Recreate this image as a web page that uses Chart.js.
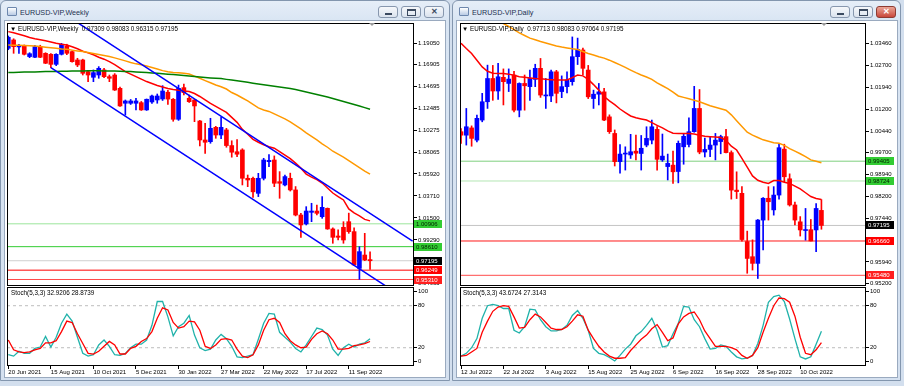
<!DOCTYPE html>
<html>
<head>
<meta charset="utf-8">
<script src="https://cdn.jsdelivr.net/npm/chart.js@4.4.0/dist/chart.umd.min.js"></script>
<style>
  html, body { margin: 0; padding: 0; }
  body { width: 904px; height: 386px; position: relative; overflow: hidden; background: #d3dfee; font-family: 'Liberation Sans', Arial, sans-serif; }
  .win { position: absolute; top: 0; height: 381px; box-sizing: border-box; border: 1px solid #8396ae; border-radius: 6px 6px 0 0;
         background: linear-gradient(#e6eef8 0, #d9e5f3 20px, #d5e1f0 100%); }
  .client { position: absolute; top: 20px; height: 358px; background: #fff; border: 1px solid #9aaabf; box-sizing: border-box; }
  .title { position: absolute; top: 8px; font-size: 7.2px; color: #1d3150; white-space: nowrap; }
  .icon { position: absolute; top: 7px; width: 8px; height: 7px; border: 1px solid #6d87ad; background: linear-gradient(#ffffff, #b9cbe4); border-radius: 1px; }
  .btn { position: absolute; top: 6px; width: 20px; height: 12px; box-sizing: border-box; border: 1px solid #8797ae; border-radius: 3px;
         background: linear-gradient(#f6f8fb, #dbe3ee); }
  .btn.red { background: linear-gradient(#eba596, #c9473b); border-color: #8e3b32; }
  .btn .min { position: absolute; left: 6px; top: 6px; width: 7px; height: 2px; background: #3b4a60; }
  .btn .max { position: absolute; left: 5px; top: 2px; width: 7px; height: 4px; border: 1px solid #3b4a60; border-top-width: 2px; }
  .btn .x { position: absolute; left: 0; width: 18px; top: 0px; text-align: center; font-size: 8px; line-height: 10px; color: #3b4a60; font-weight: bold; }
  .btn.red .x { color: #fff; }
  canvas { position: absolute; }
  .hdr { position: absolute; font-size: 6.3px; color: #000; white-space: nowrap; line-height: 8px; }
  .shift { position: absolute; top: 23px; width: 0; height: 0; border-left: 3px solid transparent; border-right: 3px solid transparent; border-top: 3px solid #9a9a9a; }
</style>
</head>
<body>

<div class="win" style="left:0;width:450px"></div>
<div class="icon" style="left:7px"></div>
<div class="title" style="left:20px">EURUSD-VIP,Weekly</div>
<div class="btn" style="left:378px"><span class="min"></span></div>
<div class="btn" style="left:401px"><span class="max"></span></div>
<div class="btn" style="left:424px"><span class="x">✕</span></div>
<div class="client" style="left:4px;width:442px"></div>

<div class="win" style="left:452px;width:449px"></div>
<div class="icon" style="left:459px"></div>
<div class="title" style="left:472px">EURUSD-VIP,Daily</div>
<div class="btn" style="left:830px"><span class="min"></span></div>
<div class="btn" style="left:853px"><span class="max"></span></div>
<div class="btn red" style="left:876px"><span class="x">✕</span></div>
<div class="client" style="left:456px;width:442px"></div>

<canvas id="weeklyMain" width="437" height="263" style="left:7px;top:23px"></canvas>
<canvas id="weeklyStoch" width="437" height="90" style="left:7px;top:287px"></canvas>
<canvas id="dailyMain" width="436" height="263" style="left:460px;top:23px"></canvas>
<canvas id="dailyStoch" width="436" height="90" style="left:460px;top:287px"></canvas>

<div class="hdr" style="left:10px;top:25px">▼ EURUSD-VIP,Weekly&nbsp;&nbsp;0.97309 0.98083 0.96315 0.97195</div>
<div class="hdr" style="left:462px;top:25px">▼ EURUSD-VIP,Daily&nbsp;&nbsp;0.97713 0.98083 0.97064 0.97195</div>
<div class="hdr" style="left:11px;top:289px">Stoch(5,3,3) 32.9206 28.8739</div>
<div class="hdr" style="left:463px;top:289px">Stoch(5,3,3) 43.6724 27.3143</div>
<div class="shift" style="left:369px"></div>
<div class="shift" style="left:821px"></div>

<script>
// ---- weekly data (20 Jun 2021 .. Oct 2022) ----
const weeklyOpen = [1.1854,1.1938,1.1868,1.1878,1.1771,1.1764,1.1871,1.1804,1.1794,1.1693,
  1.1794,1.1878,1.1821,1.1737,1.1737,1.1620,1.1563,1.1586,1.1637,1.1569,
  1.1586,1.1452,1.1302,1.1302,1.1302,1.1308,1.1235,1.1315,1.1335,1.1345,
  1.1413,1.1342,1.1141,1.1459,1.1352,1.1335,1.1124,1.0933,1.0916,1.1060,
  1.0983,1.1034,1.0877,1.0815,1.0833,1.0548,1.0548,1.0397,1.0548,1.0715,
  1.0732,1.0514,1.0481,1.0548,1.0431,1.0179,1.0089,1.0206,1.0219,1.0162,
  1.0246,1.0039,0.9968,1.0055,1.0112,1.0012,0.9643,0.9777,0.97309];
const weeklyHigh = [1.1978,1.1950,1.1895,1.1888,1.1810,1.1885,1.1885,1.1810,1.1800,1.1800,
  1.1904,1.1895,1.1830,1.1754,1.1745,1.1630,1.1637,1.1670,1.1653,1.1586,
  1.1600,1.1465,1.1335,1.1340,1.1352,1.1320,1.1345,1.1385,1.1395,1.1479,
  1.1433,1.1350,1.1485,1.1495,1.1385,1.1340,1.1130,1.1100,1.1151,1.1070,
  1.1161,1.1050,1.0925,1.0936,1.0845,1.0581,1.0560,1.0598,1.0749,1.0786,
  1.0773,1.0615,1.0581,1.0600,1.0465,1.0196,1.0263,1.0297,1.0280,1.0364,
  1.0250,1.0050,1.0029,1.0112,1.0198,1.0050,0.9861,0.9995,0.98083];
const weeklyLow = [1.1840,1.1804,1.1804,1.1787,1.1760,1.1760,1.1760,1.1700,1.1660,1.1680,
  1.1787,1.1790,1.1715,1.1670,1.1586,1.1519,1.1519,1.1553,1.1560,1.1519,
  1.1430,1.1270,1.1184,1.1290,1.1235,1.1230,1.1230,1.1300,1.1302,1.1330,
  1.1291,1.1121,1.1130,1.1385,1.1310,1.1117,1.0873,1.0799,1.0900,1.0950,
  1.0945,1.0860,1.0760,1.0765,1.0481,1.0464,1.0355,1.0364,1.0531,1.0665,
  1.0464,1.0347,1.0471,1.0420,1.0170,0.9955,1.0079,1.0112,1.0179,1.0146,
  1.0035,0.9895,0.9928,0.9895,0.9995,0.9670,0.9533,0.9720,0.96315];
const weeklyClose = [1.1965,1.1871,1.1880,1.1794,1.1800,1.1871,1.1764,1.1704,1.1693,1.1794,
  1.1895,1.1804,1.1720,1.1687,1.1603,1.1586,1.1610,1.1653,1.1569,1.1553,
  1.1435,1.1275,1.1325,1.1325,1.1325,1.1235,1.1342,1.1375,1.1375,1.1425,
  1.1344,1.1141,1.1452,1.1409,1.1318,1.1275,1.0933,1.0910,1.1050,1.0983,
  1.1060,1.0877,1.0810,1.0790,1.0548,1.0531,1.0412,1.0548,1.0732,1.0728,
  1.0498,1.0498,1.0565,1.0431,1.0179,1.0079,1.0219,1.0219,1.0196,1.0256,
  1.0039,0.9955,0.9955,0.9928,1.0012,0.9677,0.9811,0.9727,0.97195];
const weeklyMaFast = [1.2022,1.2010,1.1995,1.1980,1.1962,1.1950,1.1940,1.1930,1.1918,1.1905,
  1.1895,1.1888,1.1870,1.1850,1.1825,1.1808,1.1790,1.1765,1.1745,1.1720,
  1.1690,1.1655,1.1620,1.1595,1.1570,1.1545,1.1520,1.1500,1.1480,1.1465,
  1.1450,1.1440,1.1432,1.1425,1.1420,1.1400,1.1370,1.1335,1.1300,1.1270,
  1.1240,1.1210,1.1160,1.1110,1.1040,1.0990,1.0940,1.0910,1.0885,1.0865,
  1.0850,1.0815,1.0780,1.0745,1.0700,1.0650,1.0590,1.0560,1.0535,1.0500,
  1.0450,1.0400,1.0365,1.0330,1.0240,1.0200,1.0170,1.0135,1.0120];
const weeklyMaMid = [1.1888,1.1886,1.1884,1.1882,1.1880,1.1877,1.1872,1.1866,1.1860,1.1854,
  1.1848,1.1844,1.1836,1.1828,1.1821,1.1812,1.1802,1.1792,1.1782,1.1771,
  1.1758,1.1743,1.1728,1.1712,1.1698,1.1688,1.1676,1.1662,1.1647,1.1630,
  1.1618,1.1612,1.1608,1.1604,1.1595,1.1575,1.1553,1.1530,1.1508,1.1486,
  1.1468,1.1445,1.1410,1.1385,1.1355,1.1325,1.1290,1.1255,1.1235,1.1220,
  1.1195,1.1170,1.1145,1.1115,1.1080,1.1045,1.1005,1.0970,1.0935,1.0895,
  1.0860,1.0820,1.0790,1.0760,1.0725,1.0690,1.0655,1.0620,1.0590];
const weeklyMaSlow = [1.1610,1.1612,1.1614,1.1615,1.1616,1.1617,1.1618,1.1620,1.1621,1.1622,
  1.1623,1.1624,1.1625,1.1626,1.1627,1.1628,1.1628,1.1628,1.1627,1.1627,
  1.1626,1.1624,1.1622,1.1620,1.1617,1.1614,1.1611,1.1607,1.1603,1.1598,
  1.1594,1.1590,1.1586,1.1580,1.1575,1.1570,1.1565,1.1560,1.1556,1.1553,
  1.1550,1.1542,1.1535,1.1528,1.1520,1.1512,1.1503,1.1495,1.1488,1.1480,
  1.1472,1.1465,1.1458,1.1450,1.1440,1.1428,1.1415,1.1403,1.1390,1.1378,
  1.1365,1.1350,1.1335,1.1320,1.1305,1.1290,1.1275,1.1258,1.1242];
// trend channel anchors: [bar index, price]
const weeklyChannelUpper = [[10, 1.2217], [76, 0.9917]];
const weeklyChannelLower = [[8, 1.1660], [76, 0.9290]];
const weeklyLevels = [1.00906, 0.98610, 0.97195, 0.96249, 0.95310];
const weeklyPriceTicks = [1.19050,1.16905,1.14695,1.12485,1.10275,1.08065,1.05920,1.03710,1.01500,0.99290,0.97080,0.94935];
const weeklyStochMain = [10,8,15,12,12,19,21,36,21,35,55,68,58,35,12,8,10,24,31,22,
  10,9,12,20,25,25,31,52,86,86,64,37,50,55,66,38,20,16,18,31,
  39,33,22,7,6,8,10,32,55,69,68,42,35,28,19,14,24,36,48,46,
  38,18,9,20,25,21,25,27,32.92];
const weeklyStochSignal = [31,17,14,13,14,17,19,27,27,30,43,58,56,40,26,12,11,15,22,29,
  24,11,11,19,22,29,33,43,62,77,74,56,48,50,58,57,45,22,19,24,
  32,33,31,18,8,6,10,24,45,60,62,56,40,30,24,20,21,32,40,44,
  40,31,18,18,19,23,24,26,28.87];
const weeklyDates = ['20 Jun 2021','15 Aug 2021','10 Oct 2021','5 Dec 2021','30 Jan 2022','27 Mar 2022','22 May 2022','17 Jul 2022','11 Sep 2022'];
const weeklyDateBars = [0, 8, 16, 24, 32, 40, 48, 56, 64];

// ---- daily data (12 Jul 2022 .. 14 Oct 2022) ----
const dailyOpen = [1.0042,1.0030,1.0055,1.0013,1.0082,1.0145,1.0225,1.0182,1.0229,1.0208,
  1.0237,1.0116,1.0208,1.0197,1.0222,1.0260,1.0165,1.0165,1.0248,1.0180,
  1.0197,1.0214,1.0300,1.0323,1.0254,1.0156,1.0171,1.0179,1.0093,1.0036,
  0.9939,0.9965,0.9962,0.9975,0.9967,0.9996,1.0013,1.0050,0.9945,0.9922,
  0.9927,0.9905,0.9990,0.9998,1.0042,1.0122,0.9972,0.9981,0.9996,1.0008,
  1.0025,0.9970,0.9841,0.9830,0.9664,0.9612,0.9589,0.9738,0.9813,0.9773,
  0.9824,0.9982,0.9880,0.9790,0.9732,0.9702,0.9705,0.9704,0.97713];
const dailyHigh = [1.0053,1.0122,1.0062,1.0099,1.0174,1.0271,1.0270,1.0277,1.0258,1.0258,
  1.0250,1.0210,1.0237,1.0254,1.0274,1.0294,1.0225,1.0254,1.0253,1.0234,
  1.0248,1.0368,1.0364,1.0330,1.0270,1.0185,1.0208,1.0191,1.0100,1.0048,
  0.9998,0.9990,1.0033,1.0030,1.0029,1.0059,1.0082,1.0060,1.0034,0.9965,
  0.9975,1.0010,1.0035,1.0090,1.0198,1.0187,1.0020,1.0026,1.0036,1.0030,
  1.0050,0.9976,0.9904,0.9853,0.9700,0.9670,0.9740,0.9815,0.9853,0.9853,
  0.9999,0.9999,0.9897,0.9800,0.9750,0.9778,0.9740,0.9795,0.98083];
const dailyLow = [1.0002,0.9996,0.9992,1.0007,1.0076,1.0122,1.0150,1.0153,1.0134,1.0180,
  1.0110,1.0093,1.0116,1.0150,1.0197,1.0160,1.0122,1.0145,1.0141,1.0159,
  1.0175,1.0202,1.0273,1.0237,1.0156,1.0122,1.0134,1.0080,1.0036,0.9924,
  0.9899,0.9910,0.9950,0.9945,0.9910,0.9990,1.0000,0.9910,0.9940,0.9876,
  0.9864,0.9866,0.9930,0.9990,1.0040,0.9966,0.9955,0.9956,0.9945,0.9966,
  0.9969,0.9810,0.9812,0.9665,0.9555,0.9566,0.9537,0.9635,0.9738,0.9755,
  0.9810,0.9870,0.9786,0.9721,0.9683,0.9669,0.9666,0.9629,0.97064];
const dailyClose = [1.0030,1.0059,1.0019,1.0088,1.0145,1.0225,1.0182,1.0231,1.0214,1.0223,
  1.0116,1.0208,1.0200,1.0225,1.0260,1.0168,1.0168,1.0248,1.0174,1.0197,
  1.0220,1.0300,1.0325,1.0260,1.0162,1.0171,1.0179,1.0082,1.0042,0.9939,
  0.9965,0.9968,0.9973,0.9968,0.9985,1.0019,1.0059,0.9947,0.9958,0.9933,
  0.9904,1.0002,1.0026,1.0042,1.0122,0.9972,0.9981,0.9996,1.0013,1.0025,
  0.9970,0.9841,0.9836,0.9671,0.9606,0.9589,0.9738,0.9813,0.9801,0.9824,
  0.9987,0.9887,0.9790,0.9738,0.9704,0.9705,0.9666,0.9778,0.97195];
const dailyMaFast = [1.0346,1.0328,1.0311,1.0288,1.0265,1.0250,1.0243,1.0242,1.0242,1.0240,
  1.0236,1.0231,1.0229,1.0227,1.0225,1.0224,1.0222,1.0221,1.0220,1.0220,
  1.0220,1.0228,1.0237,1.0234,1.0222,1.0204,1.0185,1.0163,1.0148,1.0135,
  1.0120,1.0108,1.0096,1.0090,1.0086,1.0082,1.0073,1.0064,1.0055,1.0045,
  1.0037,1.0036,1.0036,1.0036,1.0034,1.0030,1.0026,1.0025,1.0024,1.0022,
  1.0012,0.9992,0.9979,0.9950,0.9920,0.9890,0.9875,0.9868,0.9864,0.9874,
  0.9874,0.9868,0.9864,0.9855,0.9845,0.9832,0.9819,0.9812,0.9809];
const dailyMaSlow = [null,null,null,null,null,null,null,1.0428,1.0414,1.0404,
  1.0393,1.0382,1.0373,1.0364,1.0358,1.0352,1.0347,1.0342,1.0337,1.0333,
  1.0330,1.0327,1.0325,1.0318,1.0311,1.0306,1.0300,1.0295,1.0288,1.0280,
  1.0272,1.0263,1.0254,1.0245,1.0237,1.0230,1.0222,1.0210,1.0200,1.0190,
  1.0178,1.0165,1.0160,1.0155,1.0150,1.0145,1.0138,1.0131,1.0126,1.0121,
  1.0116,1.0100,1.0080,1.0060,1.0040,1.0030,1.0022,1.0014,1.0009,1.0004,
  1.0002,0.9995,0.9984,0.9975,0.9966,0.9956,0.9945,0.9940,0.9935];
const dailyLevels = [0.99405, 0.98724, 0.97195, 0.96660, 0.95480];
const dailyPriceTicks = [1.03460,1.02700,1.01940,1.01200,1.00440,0.99700,0.98940,0.98200,0.97440,0.96680,0.95940,0.95200];
const dailyStochMain = [8,12,20,33,62,80,82,80,76,76,45,41,50,75,74,60,50,44,44,46,
  52,66,73,62,45,19,12,10,6,1,9,18,25,37,43,52,62,45,21,23,
  40,55,79,78,60,50,33,18,19,24,22,14,7,4,5,9,26,52,85,93,
  95,86,61,33,7,4,7,25,43.67];
const dailyStochSignal = [8,9,14,19,42,58,72,78,80,79,64,48,49,60,68,64,56,48,46,46,
  50,58,67,65,45,33,22,14,8,5,5,6,16,24,32,38,47,53,42,30,
  34,54,64,69,71,60,44,33,22,22,22,20,17,9,5,9,20,42,62,80,
  91,90,85,65,35,12,10,17,27.31];
const dailyDates = ['12 Jul 2022','22 Jul 2022','3 Aug 2022','15 Aug 2022','25 Aug 2022','6 Sep 2022','16 Sep 2022','28 Sep 2022','10 Oct 2022'];
const dailyDateBars = [0, 8, 16, 24, 32, 40, 48, 56, 64];

const stochLevels = [20, 80];
const stochTicks = [0, 20, 80, 100];

// ---- styles ----
const FONT = "'Liberation Sans', Arial, sans-serif";
const BULL = '#0000ff';
const BEAR = '#ff0000';
const weeklyLevelColors = ['#9be59b', '#33cc33', '#cfcfcf', '#ff0000', '#ff4b4b'];
const dailyLevelColors = ['#7fcf7f', '#b3e6b3', '#c4c4c4', '#ff1a1a', '#ff4b4b'];
const tagFill = ['#33cc33', '#33cc33', '#000000', '#ff0000', '#ff1f1f'];
const tagText = ['#002200', '#002200', '#ffffff', '#ffffff', '#ffffff'];

// black frame round the plot area
const plotFrame = {
    id: 'plotFrame',
    afterDraw(chart) {
        const a = chart.chartArea, ctx = chart.ctx;
        ctx.save();
        ctx.strokeStyle = '#000';
        ctx.lineWidth = 1;
        ctx.strokeRect(a.left + 0.5, a.top + 0.5, a.right - a.left - 1, a.bottom - a.top - 1);
        ctx.restore();
    }
};

// coloured price boxes on the price axis
function priceTags(levels) {
    return {
        id: 'priceTags',
        afterDraw(chart) {
            const a = chart.chartArea, y = chart.scales.y, ctx = chart.ctx;
            ctx.save();
            ctx.font = '6px ' + FONT;
            ctx.textBaseline = 'middle';
            levels.forEach((v, i) => {
                const py = Math.round(y.getPixelForValue(v));
                ctx.fillStyle = tagFill[i];
                ctx.fillRect(a.right, py - 4, 28, 8);
                ctx.fillStyle = tagText[i];
                ctx.fillText(v.toFixed(5), a.right + 2, py + 0.5);
            });
            ctx.restore();
        }
    };
}

function candleSets(o, h, l, c) {
    const colors = c.map((v, i) => v >= o[i] ? BULL : BEAR);
    return [
        { type: 'bar', data: h.map((v, i) => ({ x: i, y: [l[i], v] })), backgroundColor: colors,
          barThickness: 1, grouped: false, order: 4 },
        { type: 'bar', data: o.map((v, i) => ({ x: i, y: [v, c[i]] })), backgroundColor: colors,
          barThickness: 4, minBarLength: 1, grouped: false, order: 3 }
    ];
}

function series(values, color, width, order) {
    return { type: 'line', data: values.map((v, i) => ({ x: i, y: v })), borderColor: color,
             borderWidth: width, pointRadius: 0, order: order, clip: 0 };
}

function segment(points, color, width, order, dash) {
    return { type: 'line', data: points.map(p => ({ x: p[0], y: p[1] })), borderColor: color,
             borderWidth: width, borderDash: dash || [], pointRadius: 0, order: order, clip: 0 };
}

function priceAxis(min, max, ticks) {
    return {
        type: 'linear', position: 'right', min: min, max: max,
        afterBuildTicks: s => { s.ticks = ticks.map(v => ({ value: v })); },
        afterFit: s => { s.width = 30; s.paddingTop = 0; s.paddingBottom = 0; },
        grid: { drawOnChartArea: false, drawTicks: true, tickLength: 3, color: '#000' },
        border: { display: false },
        ticks: { color: '#000', font: { size: 6, family: FONT }, padding: 1, autoSkip: false,
                 callback: v => v.toFixed(5) }
    };
}

function mainChart(id, o, h, l, c, lines, levels, levelColors, xr, yr, ticks) {
    const datasets = candleSets(o, h, l, c).concat(lines);
    levels.forEach((v, i) => datasets.push(segment([[xr[0], v], [xr[1], v]], levelColors[i], 1, 6)));
    new Chart(document.getElementById(id), {
        type: 'bar',
        data: { datasets: datasets },
        options: {
            responsive: false, animation: false, events: [],
            layout: { padding: 0 },
            plugins: { legend: { display: false }, tooltip: { enabled: false } },
            scales: {
                x: { type: 'linear', min: xr[0], max: xr[1], offset: false, display: false },
                y: priceAxis(yr[0], yr[1], ticks)
            }
        },
        plugins: [plotFrame, priceTags(levels)]
    });
}

function stochChart(id, main, signal, dates, dateBars, xr) {
    const datasets = [
        series(main, '#20b2aa', 1.3, 1),
        series(signal, '#ff0000', 1.3, 0)
    ];
    stochLevels.forEach(v => datasets.push(segment([[xr[0], v], [xr[1], v]], '#bdbdbd', 1, 5, [3, 3])));
    new Chart(document.getElementById(id), {
        type: 'line',
        data: { datasets: datasets },
        options: {
            responsive: false, animation: false, events: [],
            layout: { padding: 0 },
            plugins: { legend: { display: false }, tooltip: { enabled: false } },
            scales: {
                x: {
                    type: 'linear', min: xr[0], max: xr[1], offset: false,
                    afterBuildTicks: s => { s.ticks = dateBars.map(v => ({ value: v })); },
                    afterFit: s => { s.height = 11; s.paddingLeft = 0; s.paddingRight = 0; },
                    grid: { drawOnChartArea: false, drawTicks: true, tickLength: 3, color: '#000' },
                    border: { display: false },
                    ticks: { align: 'start', maxRotation: 0, minRotation: 0, autoSkip: false, padding: 0,
                             color: '#000', font: { size: 6, family: FONT },
                             callback: (v, i) => dates[i] }
                },
                y: {
                    type: 'linear', position: 'right', min: -6.1, max: 106.7,
                    afterBuildTicks: s => { s.ticks = stochTicks.map(v => ({ value: v })); },
                    afterFit: s => { s.width = 30; s.paddingTop = 0; s.paddingBottom = 0; },
                    grid: { drawOnChartArea: false, drawTicks: true, tickLength: 3, color: '#000' },
                    border: { display: false },
                    ticks: { color: '#000', font: { size: 6, family: FONT }, padding: 1, autoSkip: false }
                }
            }
        },
        plugins: [plotFrame]
    });
}

document.addEventListener('DOMContentLoaded', function() {

    // weekly window
    const weeklyX = [-0.244, 76.26];
    mainChart('weeklyMain', weeklyOpen, weeklyHigh, weeklyLow, weeklyClose, [
        series(weeklyMaSlow, '#008000', 1.5, 1),
        series(weeklyMaMid, '#ff9900', 1.5, 1),
        series(weeklyMaFast, '#ff0000', 1.5, 1),
        segment(weeklyChannelUpper, '#0000ff', 1.5, 0),
        segment(weeklyChannelLower, '#0000ff', 1.5, 0)
    ], weeklyLevels, weeklyLevelColors, weeklyX, [0.94657, 1.21085], weeklyPriceTicks);
    stochChart('weeklyStoch', weeklyStochMain, weeklyStochSignal, weeklyDates, weeklyDateBars, weeklyX);

    // daily window
    const dailyX = [-0.19, 76.41];
    mainChart('dailyMain', dailyOpen, dailyHigh, dailyLow, dailyClose, [
        series(dailyMaSlow, '#ff9900', 1.5, 1),
        series(dailyMaFast, '#ff0000', 1.5, 1)
    ], dailyLevels, dailyLevelColors, dailyX, [0.95112, 1.04159], dailyPriceTicks);
    stochChart('dailyStoch', dailyStochMain, dailyStochSignal, dailyDates, dailyDateBars, dailyX);
});
</script>
</body>
</html>
